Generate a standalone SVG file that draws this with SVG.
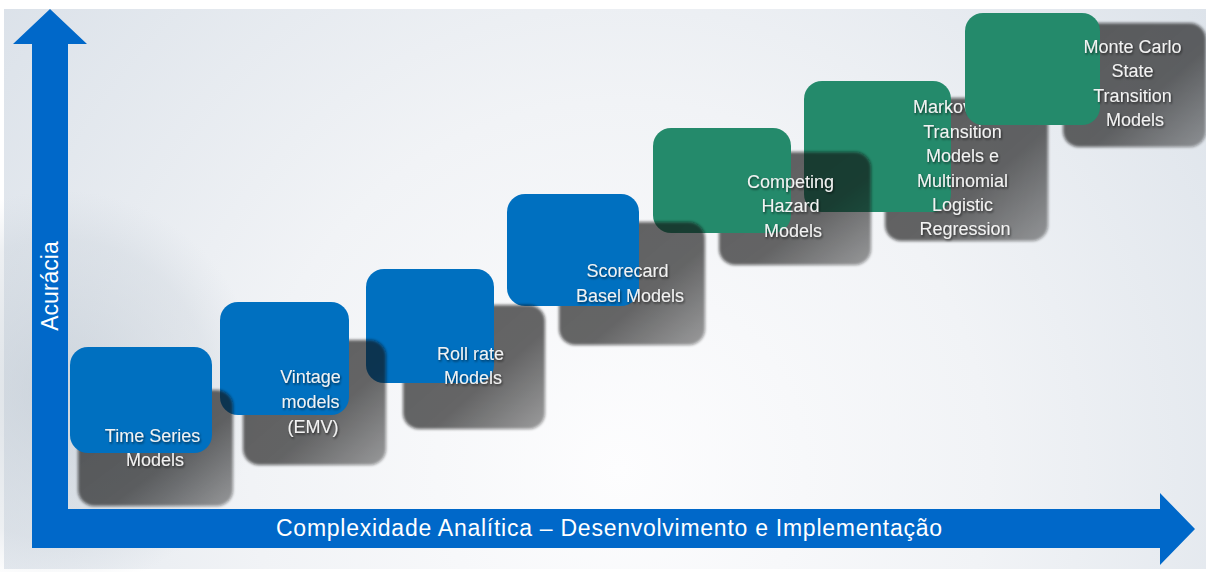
<svg xmlns="http://www.w3.org/2000/svg" width="1206" height="572" viewBox="0 0 1206 572">
  <defs>
    <radialGradient id="bg" cx="620" cy="470" r="820" gradientUnits="userSpaceOnUse">
      <stop offset="0" stop-color="#fdfdfe"/>
      <stop offset="0.45" stop-color="#f1f3f6"/>
      <stop offset="1" stop-color="#d9e0e8"/>
    </radialGradient>
    <radialGradient id="globe" cx="60" cy="390" r="200" gradientUnits="userSpaceOnUse">
      <stop offset="0" stop-color="#b3bec9" stop-opacity="0.5"/>
      <stop offset="0.75" stop-color="#c3ccd5" stop-opacity="0.3"/>
      <stop offset="1" stop-color="#c9d1da" stop-opacity="0"/>
    </radialGradient>
    <linearGradient id="shade" x1="0" y1="0" x2="1" y2="1">
      <stop offset="0" stop-color="#121212" stop-opacity="0.66"/>
      <stop offset="0.6" stop-color="#121212" stop-opacity="0.64"/>
      <stop offset="1" stop-color="#121212" stop-opacity="0.42"/>
    </linearGradient>
    <filter id="soft" x="-10%" y="-10%" width="120%" height="120%">
      <feGaussianBlur stdDeviation="1.6"/>
    </filter>
    <filter id="txtShadow" x="-20%" y="-40%" width="140%" height="180%">
      <feDropShadow dx="1" dy="1.5" stdDeviation="1" flood-color="#000" flood-opacity="0.6"/>
    </filter>
    <style>
      .back { fill: url(#shade); filter: url(#soft); }
      .blue { fill: #0070c0; }
      .green { fill: #248a6b; }
      .lbl { font-family: "Liberation Sans", Arial, sans-serif; font-size: 18px; fill: #f2f2f2; text-anchor: middle; filter: url(#txtShadow); }
      .axis { fill: #0068c9; }
      .axisTxt { font-family: "Liberation Sans", Arial, sans-serif; fill: #ffffff; }
    </style>
  </defs>

  <!-- backdrop -->
  <rect x="0" y="0" width="1206" height="572" fill="#ffffff"/>
  <rect x="4" y="9" width="1202" height="560" fill="url(#bg)"/>
  <circle cx="60" cy="390" r="200" fill="url(#globe)"/>

  <!-- axes -->
  <g id="axes">
    <path class="axis" d="M32,548 L32,44 L13,44 L50,9 L87,44 L68,44 L68,509 L1160,509 L1160,493 L1195,529 L1160,565 L1160,548 Z"/>
    <text class="axisTxt" x="276" y="536" font-size="23" textLength="666" lengthAdjust="spacing">Complexidade Analítica – Desenvolvimento e Implementação</text>
    <text class="axisTxt" transform="translate(58,286) rotate(-90)" font-size="23" text-anchor="middle">Acurácia</text>
  </g>

  <!-- model steps, drawn from the top step down so each shadow falls over the next card -->
  <g id="markov">
    <rect class="back" x="885" y="98" width="163" height="143" rx="16"/>
    <rect class="green" x="804" y="81" width="147" height="131" rx="18"/>
    <text class="lbl">
      <tspan x="913" y="113" text-anchor="start">Markov</tspan>
      <tspan x="965" y="138">Transition</tspan>
      <tspan x="965" y="162">Models e</tspan>
      <tspan x="965" y="187">Multinomial</tspan>
      <tspan x="965" y="211">Logistic</tspan>
      <tspan x="965" y="235">Regression</tspan>
    </text>
  </g>

  <g id="monte-carlo">
    <rect class="back" x="1063" y="23" width="143" height="124" rx="16"/>
    <rect class="green" x="965" y="13" width="135" height="112" rx="18"/>
    <text class="lbl">
      <tspan x="1135" y="53">Monte Carlo</tspan>
      <tspan x="1135" y="77">State</tspan>
      <tspan x="1135" y="102">Transition</tspan>
      <tspan x="1135" y="126">Models</tspan>
    </text>
  </g>

  <g id="competing-hazard">
    <rect class="back" x="719" y="152" width="152" height="113" rx="16"/>
    <rect class="green" x="653" y="128" width="138" height="105" rx="18"/>
    <text class="lbl">
      <tspan x="793" y="188">Competing</tspan>
      <tspan x="793" y="212">Hazard</tspan>
      <tspan x="793" y="237">Models</tspan>
    </text>
  </g>

  <g id="scorecard">
    <rect class="back" x="559" y="222" width="146" height="123" rx="16"/>
    <rect class="blue" x="507" y="194" width="132" height="112" rx="18"/>
    <text class="lbl">
      <tspan x="630" y="277">Scorecard</tspan>
      <tspan x="630" y="302">Basel Models</tspan>
    </text>
  </g>

  <g id="roll-rate">
    <rect class="back" x="403" y="305" width="142" height="124" rx="16"/>
    <rect class="blue" x="366" y="269" width="128" height="114" rx="18"/>
    <text class="lbl">
      <tspan x="473" y="360">Roll rate</tspan>
      <tspan x="473" y="384">Models</tspan>
    </text>
  </g>

  <g id="vintage">
    <rect class="back" x="243" y="340" width="143" height="125" rx="16"/>
    <rect class="blue" x="220" y="302" width="129" height="113" rx="18"/>
    <text class="lbl">
      <tspan x="313" y="383">Vintage</tspan>
      <tspan x="313" y="408">models</tspan>
      <tspan x="313" y="433">(EMV)</tspan>
    </text>
  </g>

  <g id="time-series">
    <rect class="back" x="78" y="390" width="155" height="116" rx="16"/>
    <rect class="blue" x="70" y="347" width="142" height="106" rx="18"/>
    <text class="lbl">
      <tspan x="155" y="442">Time Series</tspan>
      <tspan x="155" y="466">Models</tspan>
    </text>
  </g>
</svg>
